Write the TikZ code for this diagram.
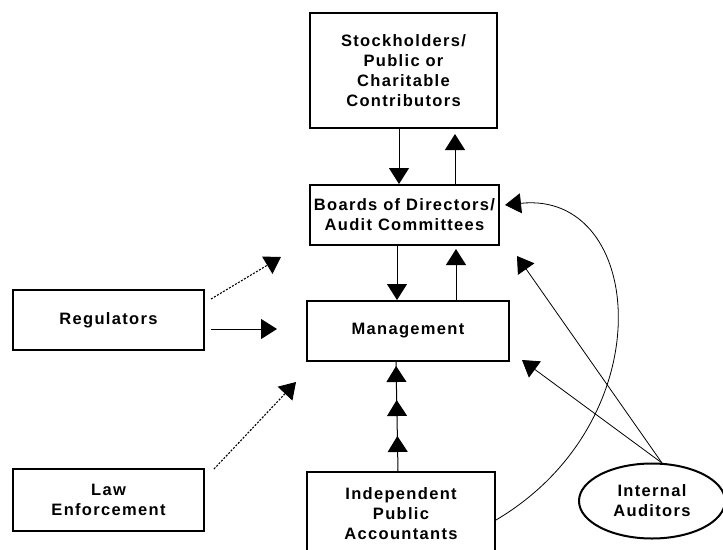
\documentclass[tikz,border=0pt]{standalone}
\usepackage{fontspec}
\setmainfont{Liberation Sans}[LetterSpace=8]
\usetikzlibrary{positioning,shapes.geometric,arrows.meta,decorations.markings}

\tikzset{
    party/.style={draw, line width=2pt, align=center, inner sep=0pt,
        font=\fontsize{16.5}{20}\selectfont\bfseries},
    tip/.style={-{Triangle[width=20pt,length=16pt]}},
    link/.style={line width=1pt, tip},
    hint/.style={line width=1.1pt, dash pattern=on 2pt off 1.5pt, tip},
}

\begin{document}
\begin{tikzpicture}[x=1pt, y=-1pt]
    \useasboundingbox (0,0) rectangle (723,549);

    \node (stock) [party, minimum width=187pt, minimum height=115pt] at (403.5,70.5) {Stockholders/\\Public or\\Charitable\\Contributors};
    \node (boards) [party, minimum width=189pt, minimum height=60pt, below of=stock, node distance=144.5pt, xshift=1pt] {Boards of Directors/\\Audit Committees};
    \node (mgmt) [party, minimum width=202pt, minimum height=60pt, below of=boards, node distance=116pt, xshift=3.5pt] {Management};
    \node (ipa) [party, minimum width=188pt, minimum height=84pt, below of=mgmt, node distance=183pt, xshift=-7pt] {Independent\\Public\\Accountants};
    \node (reg) [party, minimum width=191pt, minimum height=60pt, left of=mgmt, node distance=299.5pt, yshift=11pt] {Regulators};
    \node (law) [party, minimum width=191pt, minimum height=62pt, below of=reg, node distance=180pt] {Law\\Enforcement};
    \node (aud) [party, ellipse, minimum width=146pt, minimum height=75pt] at (652,501) {Internal\\Auditors};

    % free ends of the outside arrows
    \coordinate (regtop) at (281,257);
    \coordinate (regmid) at (277,329);
    \coordinate (lawtip) at (296,382);
    \coordinate (audtop) at (662,463);
    \coordinate (audhi) at (517,256);
    \coordinate (audlo) at (522,360);
    \coordinate (curvetip) at (505,205);

    \draw[link] ([xshift=-4.5pt]stock.south) -- ([xshift=-5.5pt]boards.north);
    \draw[link, shorten >=5pt] ([xshift=50.5pt]boards.north) -- ([xshift=51.5pt]stock.south);
    \draw[link] ([xshift=-7.5pt]boards.south) -- ([xshift=-11pt]mgmt.south |- mgmt.north);
    \draw[link, shorten >=3pt] ([xshift=48pt]mgmt.north) -- ([xshift=51.5pt]boards.south);
    \draw[line width=1pt, postaction=decorate, decoration={markings,
            mark=at position 35pt with {\arrow{Triangle[width=20pt,length=16pt]}},
            mark=at position 71pt with {\arrow{Triangle[width=20pt,length=16pt]}},
            mark=at position 105pt with {\arrow{Triangle[width=20pt,length=16pt]}}}]
        ([xshift=-3pt]ipa.north) -- ([xshift=-12pt]mgmt.south);

    \draw[hint] ([xshift=6pt, yshift=-10pt]reg.north east) -- (regtop);
    \draw[link] ([xshift=6pt, yshift=-9pt]reg.east) -- (regmid);
    \draw[hint] ([xshift=9pt, yshift=-1pt]law.north east) -- (lawtip);

    \draw[link, line width=0.8pt] (audtop) -- (audhi);
    \draw[link, line width=0.8pt] (audtop) -- (audlo);
    \draw[link, line width=0.8pt] ([yshift=-6pt]ipa.east) .. controls (665,420) and (645,190) .. (curvetip);
\end{tikzpicture}
\end{document}
